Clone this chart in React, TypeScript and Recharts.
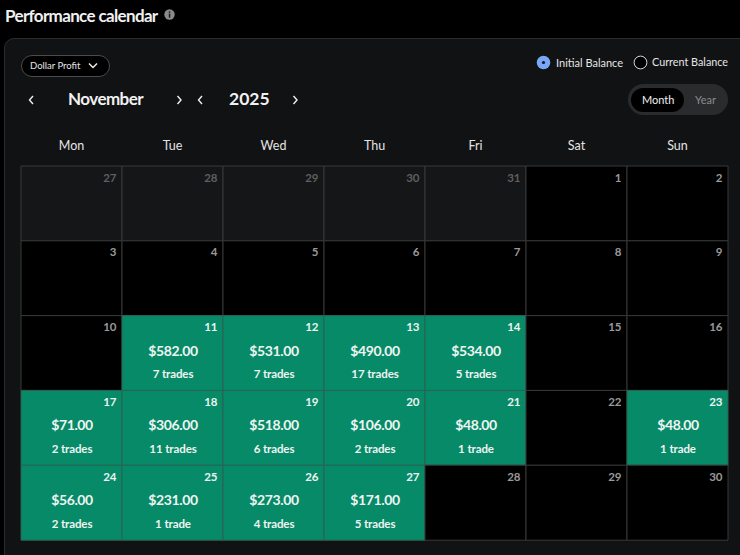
import React from 'react';
import { BarChart, Bar, XAxis, YAxis, Cell, LabelList } from 'recharts';

const weekdays = ['Mon', 'Tue', 'Wed', 'Thu', 'Fri', 'Sat', 'Sun'];
const dayKeys = ['mon', 'tue', 'wed', 'thu', 'fri', 'sat', 'sun'];
const dayTicks = [0.5, 1.5, 2.5, 3.5, 4.5, 5.5, 6.5];

const dates = [
    [27, 28, 29, 30, 31, 1, 2],
    [3, 4, 5, 6, 7, 8, 9],
    [10, 11, 12, 13, 14, 15, 16],
    [17, 18, 19, 20, 21, 22, 23],
    [24, 25, 26, 27, 28, 29, 30],
];
const profits = [
    [null, null, null, null, null, null, null],
    [null, null, null, null, null, null, null],
    [null, 582, 531, 490, 534, null, null],
    [71, 306, 518, 106, 48, null, 48],
    [56, 231, 273, 171, null, null, null],
];
const trades = [
    [0, 0, 0, 0, 0, 0, 0],
    [0, 0, 0, 0, 0, 0, 0],
    [0, 7, 7, 17, 5, 0, 0],
    [2, 11, 6, 2, 1, 0, 1],
    [2, 1, 4, 5, 0, 0, 0],
];
const outsideMonth = [
    [true, true, true, true, true, false, false],
    [false, false, false, false, false, false, false],
    [false, false, false, false, false, false, false],
    [false, false, false, false, false, false, false],
    [false, false, false, false, false, false, false],
];

// every cell is one unit wide so the stack fills the week
const rows = dates.map((_, w) => {
    const row: any = { week: 'w' + w };
    dayKeys.forEach((k) => (row[k] = 1));
    return row;
});

const font = 'Lato, sans-serif';

const cellFill = (w: number, d: number) => {
    if (profits[w][d] !== null) return '#078a68';
    return outsideMonth[w][d] ? '#151617' : '#000000';
};

const Chevron = ({ x, y, dir }: { x: number; y: number; dir: 'l' | 'r' | 'd' }) => {
    const d = dir === 'l' ? 'M6 1 L2.5 5 L6 9' : dir === 'r' ? 'M2.5 1 L6 5 L2.5 9' : 'M1 2.5 L5 6.5 L9 2.5';
    return (
        <svg style={{ position: 'absolute', left: x, top: y }} width={10} height={10}>
            <path d={d} fill="none" stroke="#f0f0f0" strokeWidth={1.4} />
        </svg>
    );
};

const Txt = ({ x, y, size, weight = 400, color = '#fff', children, spacing = 0 }: any) => (
    <div
        style={{
            position: 'absolute',
            left: x,
            top: y,
            fontSize: size,
            fontWeight: weight,
            color,
            fontFamily: font,
            letterSpacing: spacing,
            lineHeight: 1,
            whiteSpace: 'nowrap',
        }}
    >
        {children}
    </div>
);

const makeCellLabel = (d: number) => (props: any) => {
    const { x, y, width, index } = props;
    const w = index;
    const profit = profits[w][d];
    const count = trades[w][d];
    const right = x + width - 5.5;
    const mid = x + width / 2 + 0.5;
    let dateColor = '#9a9a9a';
    if (outsideMonth[w][d]) dateColor = '#5f5f60';
    if (profit !== null) dateColor = '#eef4f1';
    return (
        <g fontFamily={font}>
            <text x={right} y={y + 15.5} textAnchor="end" fontSize={11.5} fontWeight={700} fill={dateColor}>
                {dates[w][d]}
            </text>
            {profit !== null && (
                <text x={mid} y={y + 40} textAnchor="middle" fontSize={14} fontWeight={700} letterSpacing={-0.4} fill="#eef4f1">
                    ${profit.toFixed(2)}
                </text>
            )}
            {profit !== null && (
                <text x={mid} y={y + 62.5} textAnchor="middle" fontSize={11.5} fontWeight={700} letterSpacing={-0.1} fill="#eef4f1">
                    {count} {count === 1 ? 'trade' : 'trades'}
                </text>
            )}
        </g>
    );
};

export default function App() {
    return (
        <div style={{ position: 'fixed', left: 0, top: 0, width: 740, height: 555, background: '#000', overflow: 'hidden' }}>
            <Txt x={5} y={7} size={17} weight={700} color="#f1f1f1" spacing={-0.65}>Performance calendar</Txt>
            <svg style={{ position: 'absolute', left: 164, top: 9 }} width={11} height={11}>
                <circle cx={5.5} cy={5.5} r={5.2} fill="#8a8a8a" />
                <rect x={4.8} y={4.6} width={1.5} height={4} fill="#1a1a1a" />
                <rect x={4.8} y={2.4} width={1.5} height={1.4} fill="#1a1a1a" />
            </svg>

            <div
                style={{
                    position: 'absolute',
                    left: 4,
                    top: 38,
                    width: 760,
                    height: 540,
                    boxSizing: 'border-box',
                    background: '#111213',
                    border: '1px solid #2b2c2e',
                    borderRadius: 10,
                }}
            />

            <div
                style={{
                    position: 'absolute',
                    left: 21,
                    top: 55,
                    width: 89,
                    height: 22,
                    boxSizing: 'border-box',
                    background: '#000',
                    border: '1px solid #4a4b4d',
                    borderRadius: 11,
                }}
            />
            <Txt x={30} y={60.5} size={9.5} weight={400} color="#e6e6e6">Dollar Profit</Txt>
            <Chevron x={88} y={61} dir="d" />

            <Chevron x={27} y={95} dir="l" />
            <Txt x={68} y={90} size={17} weight={700} color="#f1f1f1" spacing={-0.55}>November</Txt>
            <Chevron x={175} y={95} dir="r" />
            <Chevron x={196} y={95} dir="l" />
            <Txt x={229} y={90} size={17.5} weight={700} color="#f1f1f1">2025</Txt>
            <Chevron x={291} y={95} dir="r" />

            <svg style={{ position: 'absolute', left: 536, top: 55 }} width={15} height={15}>
                <circle cx={7.5} cy={7.5} r={6.8} fill="#7aa7f5" />
                <circle cx={7.5} cy={7.5} r={1.6} fill="#0d1a30" />
            </svg>
            <Txt x={556} y={57} size={11} color="#e6e6e6">Initial Balance</Txt>
            <svg style={{ position: 'absolute', left: 633, top: 55 }} width={15} height={15}>
                <circle cx={7.5} cy={7.5} r={6.4} fill="#000" stroke="#d8d8d8" strokeWidth={1} />
            </svg>
            <Txt x={652} y={57} size={10.8} color="#e6e6e6">Current Balance</Txt>

            <div style={{ position: 'absolute', left: 628, top: 84, width: 100, height: 31, background: '#2a2b2d', borderRadius: 15.5 }} />
            <div style={{ position: 'absolute', left: 631, top: 88, width: 53, height: 24, background: '#000', borderRadius: 12 }} />
            <Txt x={642} y={94} size={11} color="#f0f0f0">Month</Txt>
            <Txt x={695} y={94} size={11} color="#8a8b8c">Year</Txt>

            <div style={{ position: 'absolute', left: 0, top: 0 }}>
                <BarChart
                    width={740}
                    height={555}
                    data={rows}
                    layout="vertical"
                    barCategoryGap={0}
                    margin={{ top: 136, right: 12, bottom: 15, left: 21 }}
                >
                    <XAxis
                        type="number"
                        orientation="top"
                        domain={[0, 7]}
                        ticks={dayTicks}
                        tickFormatter={(v: number) => weekdays[Math.floor(v)]}
                        height={30}
                        axisLine={false}
                        tickLine={false}
                        tickMargin={10}
                        interval={0}
                        tick={{ fill: '#e4e4e4', fontSize: 12.5, fontFamily: font }}
                    />
                    <YAxis type="category" dataKey="week" hide />
                    {dayKeys.map((k, d) => (
                        <Bar key={k} dataKey={k} stackId="week" isAnimationActive={false}>
                            {rows.map((_, w) => (
                                <Cell key={w} fill={cellFill(w, d)} stroke={profits[w][d] !== null ? '#2c6353' : '#38393b'} strokeWidth={1} />
                            ))}
                            <LabelList dataKey={k} content={makeCellLabel(d)} />
                        </Bar>
                    ))}
                </BarChart>
            </div>
        </div>
    );
}
